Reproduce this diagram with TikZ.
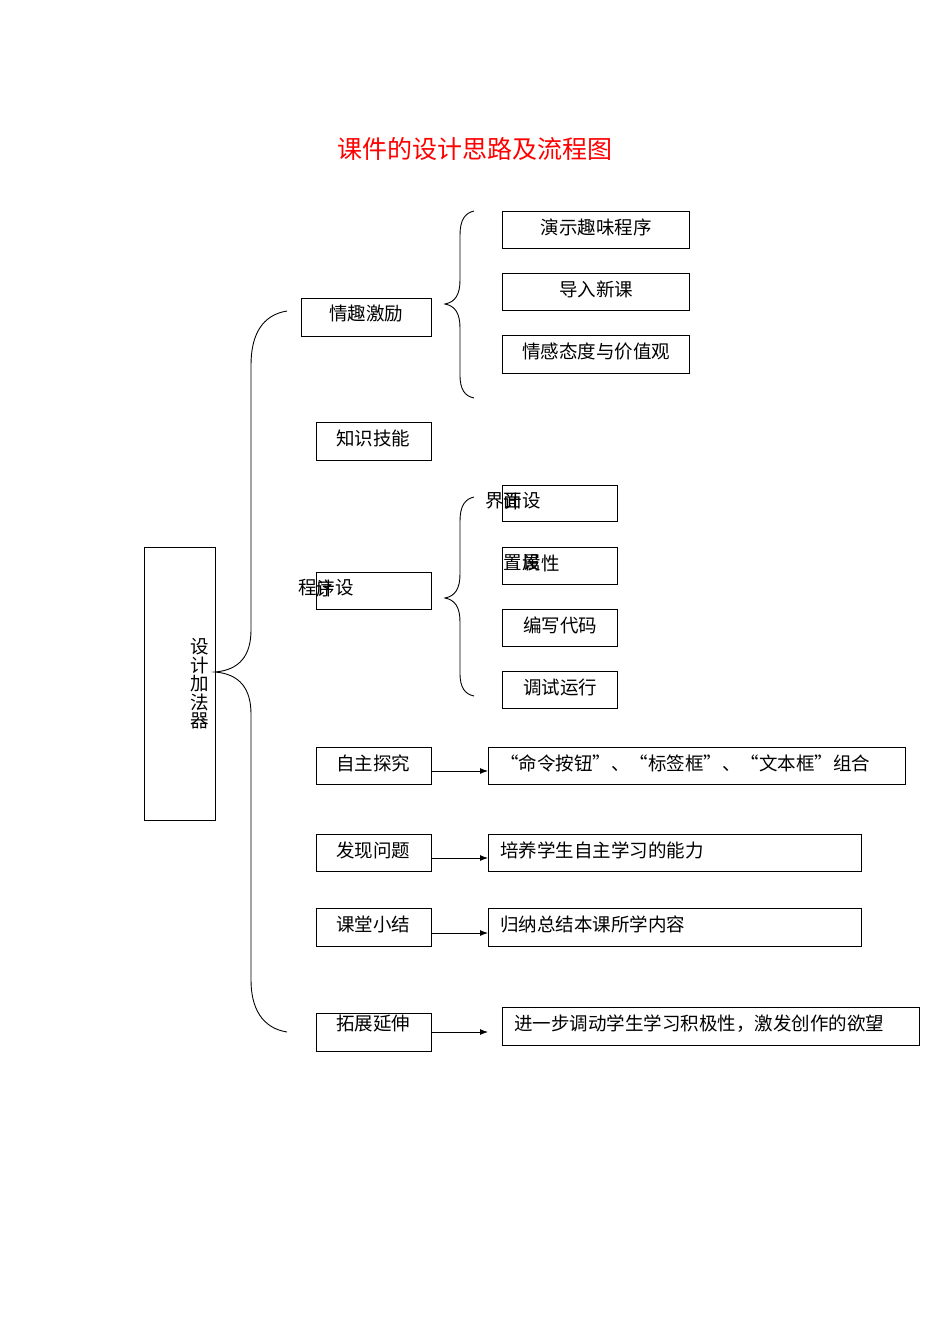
\documentclass[tikz,border=0pt]{standalone}
\usepackage{fontspec}
\setmainfont{Liberation Serif}
\newfontfamily\cjk{Noto Sans CJK SC}
\usetikzlibrary{arrows.meta}
\begin{document}
\begin{tikzpicture}[x=1pt,y=-1pt,line width=0.9pt,
  tx/.style={font=\cjk\fontsize{18.5}{18.5}\selectfont,inner sep=0pt},
  ar/.style={-{Latex[length=8pt,width=6pt]}}]
\useasboundingbox (0,0) rectangle (950,1344);
\node[font=\cjk\fontsize{25}{25}\selectfont,text=red] (title) at (475,149) {课件的设计思路及流程图};
\newcommand\bb[5]{\draw (#2,#3) rectangle (#4,#5); \coordinate (#1) at ({(#2+#4)/2},{(#3+#5)/2});}
\bb{b1}{502}{211}{689}{248}\node[tx] at (596,227){演示趣味程序};
\bb{b2}{502}{273}{689}{310}\node[tx] at (596,289){导入新课};
\bb{b3}{502}{335}{689}{373}\node[tx] at (596,351){情感态度与价值观};
\bb{q}{301}{298}{431}{336}\node[tx] at (366,314){情趣激励};
\bb{z}{316}{422}{431}{460}\node[tx] at (373,438){知识技能};
\bb{c1}{502}{485}{617}{521}
\node[tx] at (495,501){界};\node[tx] at (513,501){面};\node[tx] at (513,501){计};\node[tx] at (532,501){设};
\bb{c2}{502}{547}{617}{584}
\node[tx] at (513,563){置};\node[tx] at (532,563){属};\node[tx] at (532,563){设};\node[tx] at (551,563){性};
\bb{c3}{502}{609}{617}{646}\node[tx] at (560,625){编写代码};
\bb{c4}{502}{671}{617}{708}\node[tx] at (560,687){调试运行};
\bb{p}{316}{572}{431}{609}
\node[tx] at (308,588){程};\node[tx] at (326,588){序};\node[tx] at (326,588){计};\node[tx] at (345,588){设};
\bb{m}{144}{547}{215}{820}
\node[tx,align=center] at (200,684){设\\[0pt]计\\[0pt]加\\[0pt]法\\[0pt]器};
\bb{d1}{316}{747}{431}{784}\node[tx] at (373,763){自主探究};
\draw (488,747) rectangle (905,784);\coordinate (e1) at (488,771);
\node[tx,anchor=west] at (500,763){“命令按钮”、“标签框”、“文本框”组合};
\bb{d2}{316}{834}{431}{871}\node[tx] at (373,850){发现问题};
\draw (488,834) rectangle (861,871);\coordinate (e2) at (488,858);
\node[tx,anchor=west] at (500,850){培养学生自主学习的能力};
\bb{d3}{316}{908}{431}{946}\node[tx] at (373,924){课堂小结};
\draw (488,908) rectangle (861,946);\coordinate (e3) at (488,933);
\node[tx,anchor=west] at (500,924){归纳总结本课所学内容};
\bb{d4}{316}{1013}{431}{1051}\node[tx] at (373,1024){拓展延伸};
\draw (502,1007) rectangle (919,1045);\coordinate (e4) at (488,1032);
\node[tx,anchor=west] at (514,1024){进一步调动学生学习积极性，激发创作的欲望};
\coordinate (s1) at (431,771);\coordinate (s2) at (431,858);\coordinate (s3) at (431,933);\coordinate (s4) at (431,1032);
\draw[ar] (s1)--(e1);\draw[ar] (s2)--(e2);\draw[ar] (s3)--(e3);\draw[ar] (s4)--(e4);
\draw (287,311) .. controls (262,315) and (251,335) .. (251,365) -- (251,630)
  .. controls (251,655) and (240,670) .. (215,672)
  .. controls (240,674) and (251,689) .. (251,714) -- (251,980)
  .. controls (251,1008) and (262,1028) .. (287,1032);
\draw (474,211) .. controls (465,213) and (460,220) .. (460,235) -- (460,280)
  .. controls (460,295) and (455,302) .. (445,304)
  .. controls (455,306) and (460,313) .. (460,328) -- (460,375)
  .. controls (460,390) and (465,396) .. (474,398);
\draw (474,497) .. controls (465,499) and (460,506) .. (460,521) -- (460,574)
  .. controls (460,589) and (455,596) .. (445,598)
  .. controls (455,600) and (460,607) .. (460,622) -- (460,673)
  .. controls (460,688) and (465,694) .. (474,696);
\end{tikzpicture}
\end{document}
